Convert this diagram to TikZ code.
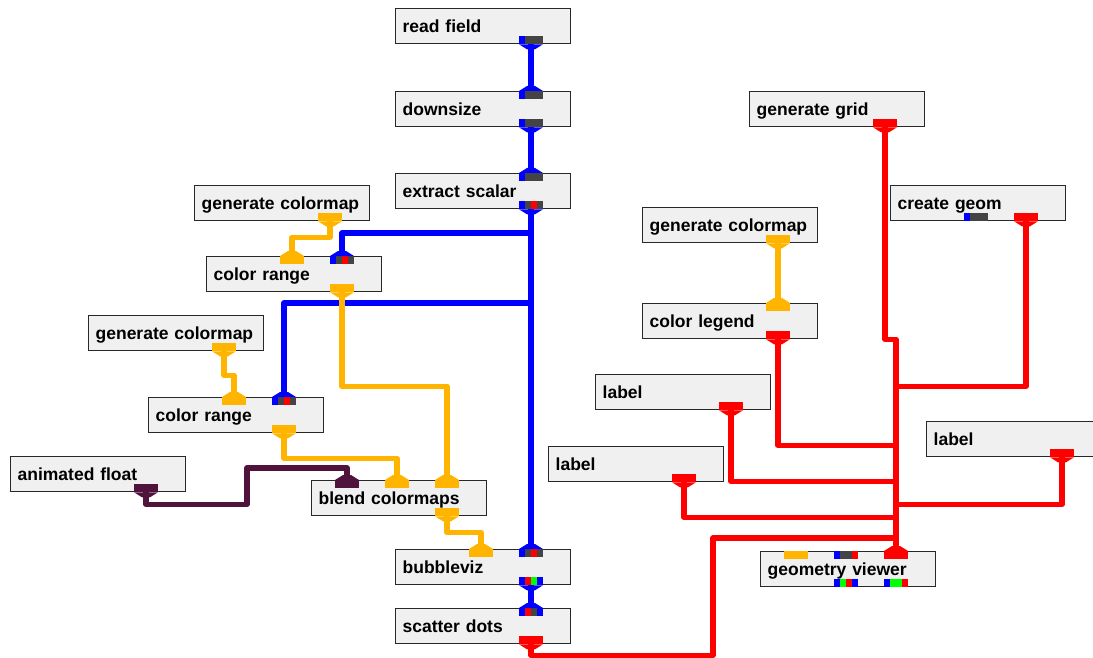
\documentclass[tikz,border=0pt]{standalone}
\usepackage{fontspec}
\setmainfont{Liberation Sans}
\usetikzlibrary{calc}

\definecolor{wblue}{RGB}{0,0,255}
\definecolor{wred}{RGB}{255,0,0}
\definecolor{worange}{RGB}{255,180,0}
\definecolor{wplum}{RGB}{80,20,60}
\definecolor{wgreen}{RGB}{0,255,0}
\definecolor{pgray}{RGB}{68,68,68}
\definecolor{boxfill}{RGB}{240,240,240}
\definecolor{boxline}{RGB}{40,40,40}

% funnel where a wire leaves an output port (below) or enters an input port (above)
\newcommand\flaredown[2]{\fill[#2] (#1.south west) -- (#1.south east)
  -- ([xshift=-8pt,yshift=-5pt]#1.south east) -- ([xshift=8pt,yshift=-5pt]#1.south west) -- cycle;}
\newcommand\flareup[2]{\fill[#2] (#1.north west) -- (#1.north east)
  -- ([xshift=-8pt,yshift=5pt]#1.north east) -- ([xshift=8pt,yshift=5pt]#1.north west) -- cycle;}

\begin{document}
\begin{tikzpicture}[x=1pt,y=-1pt,
  module/.style={draw=boxline, fill=boxfill, line width=1.3pt, anchor=north west,
    minimum width=175pt, minimum height=35pt, inner xsep=7pt, inner ysep=0pt,
    text width=161pt, align=left, font=\bfseries\fontsize{17.5}{20}\selectfont,
    text height=12.5pt, text depth=0.5pt},
  portbox/.style n args={4}{minimum width=24pt, minimum height=8pt, inner sep=0pt,
    outer sep=0pt, fill=#1, path picture={
      \fill[#2] ([xshift=6pt]path picture bounding box.south west) rectangle ++(6pt,8pt);
      \fill[#3] ([xshift=12pt]path picture bounding box.south west) rectangle ++(6pt,8pt);
      \fill[#4] ([xshift=18pt]path picture bounding box.south west) rectangle ++(6pt,8pt);}},
  pin/.style={anchor=north},
  pout/.style={anchor=south},
  porange/.style={portbox={worange}{worange}{worange}{worange}},
  pred/.style={portbox={wred}{wred}{wred}{wred}},
  pplum/.style={portbox={wplum}{wplum}{wplum}{wplum}},
  pfield/.style={portbox={wblue}{pgray}{pgray}{pgray}},
  pscalar/.style={portbox={wblue}{pgray}{wred}{pgray}},
  wire/.style={draw=#1, line width=5.5pt, line join=round}
]
\useasboundingbox (0,0) rectangle (1093,658);

% ---------- modules ----------
\node[module] (rf)  at (395,8)   {read field};
\node[module] (ds)  at (395,91)  {downsize};
\node[module] (es)  at (395,173) {extract scalar};
\node[module] (gc1) at (194,185) {generate colormap};
\node[module] (cr1) at (206,256) {color range};
\node[module] (gc2) at (88,315)  {generate colormap};
\node[module] (cr2) at (148,397) {color range};
\node[module] (af)  at (10,456)  {animated float};
\node[module] (bc)  at (311,480) {blend colormaps};
\node[module] (bv)  at (395,549) {bubbleviz};
\node[module] (sd)  at (395,608) {scatter dots};
\node[module] (gg)  at (749,91)  {generate grid};
\node[module] (cg)  at (890,185) {create geom};
\node[module] (gc3) at (642,207) {generate colormap};
\node[module] (cl)  at (642,303) {color legend};
\node[module] (lb1) at (595,374) {label};
\node[module] (lb2) at (548,446) {label};
\node[module] (lb3) at (926,421) {label};
\node[module] (gv)  at (760,551) {geometry viewer};

% ---------- ports ----------
\node[pfield,pout]  (rf-o)  at ([xshift=136pt]rf.south west) {};
\node[pfield,pin]   (ds-i)  at ([xshift=136pt]ds.north west) {};
\node[pfield,pout]  (ds-o)  at ([xshift=136pt]ds.south west) {};
\node[pfield,pin]   (es-i)  at ([xshift=136pt]es.north west) {};
\node[pscalar,pout] (es-o)  at ([xshift=136pt]es.south west) {};
\node[porange,pout] (gc1-o) at ([xshift=136pt]gc1.south west) {};
\node[porange,pin]  (cr1-i1) at ([xshift=86pt]cr1.north west) {};
\node[pscalar,pin]  (cr1-i2) at ([xshift=136pt]cr1.north west) {};
\node[porange,pout] (cr1-o) at ([xshift=136pt]cr1.south west) {};
\node[porange,pout] (gc2-o) at ([xshift=136pt]gc2.south west) {};
\node[porange,pin]  (cr2-i1) at ([xshift=86pt]cr2.north west) {};
\node[pscalar,pin]  (cr2-i2) at ([xshift=136pt]cr2.north west) {};
\node[porange,pout] (cr2-o) at ([xshift=136pt]cr2.south west) {};
\node[pplum,pout]   (af-o)  at ([xshift=136pt]af.south west) {};
\node[pplum,pin]    (bc-i1) at ([xshift=36pt]bc.north west) {};
\node[porange,pin]  (bc-i2) at ([xshift=86pt]bc.north west) {};
\node[porange,pin]  (bc-i3) at ([xshift=136pt]bc.north west) {};
\node[porange,pout] (bc-o)  at ([xshift=136pt]bc.south west) {};
\node[porange,pin]  (bv-i1) at ([xshift=86pt]bv.north west) {};
\node[pscalar,pin]  (bv-i2) at ([xshift=136pt]bv.north west) {};
\node[portbox={wblue}{wred}{wgreen}{wblue},pout] (bv-o) at ([xshift=136pt]bv.south west) {};
\node[portbox={wblue}{wred}{pgray}{wblue},pin]   (sd-i) at ([xshift=136pt]sd.north west) {};
\node[pred,pout]    (sd-o)  at ([xshift=136pt]sd.south west) {};
\node[pred,pout]    (gg-o)  at ([xshift=136pt]gg.south west) {};
\node[pfield,pout]  (cg-o1) at ([xshift=86pt]cg.south west) {};
\node[pred,pout]    (cg-o2) at ([xshift=136pt]cg.south west) {};
\node[porange,pout] (gc3-o) at ([xshift=136pt]gc3.south west) {};
\node[porange,pin]  (cl-i)  at ([xshift=136pt]cl.north west) {};
\node[pred,pout]    (cl-o)  at ([xshift=136pt]cl.south west) {};
\node[pred,pout]    (lb1-o) at ([xshift=136pt]lb1.south west) {};
\node[pred,pout]    (lb2-o) at ([xshift=136pt]lb2.south west) {};
\node[pred,pout]    (lb3-o) at ([xshift=136pt]lb3.south west) {};
\node[porange,pin]  (gv-i1) at ([xshift=36pt]gv.north west) {};
\node[portbox={wblue}{pgray}{pgray}{wred},pin]    (gv-i2) at ([xshift=86pt]gv.north west) {};
\node[pred,pin]     (gv-i3) at ([xshift=136pt]gv.north west) {};
\node[portbox={wblue}{wgreen}{wred}{wblue},pout]  (gv-o1) at ([xshift=86pt]gv.south west) {};
\node[portbox={wblue}{wgreen}{wgreen}{wred},pout] (gv-o2) at ([xshift=136pt]gv.south west) {};

% ---------- wires ----------
\coordinate (jb1) at (531,233);
\coordinate (jb2) at (531,303);
\draw[wire=wblue] (rf-o.south) -- (ds-i.north);
\draw[wire=wblue] (ds-o.south) -- (es-i.north);
\draw[wire=wblue] (es-o.south) -- (bv-i2.north);
\draw[wire=wblue] (jb1) -| (cr1-i2.north);
\draw[wire=wblue] (jb2) -| (cr2-i2.north);
\draw[wire=wblue] (bv-o.south) -- (sd-i.north);

\draw[wire=worange] (gc1-o.south) -- ++(0,16) -| (cr1-i1.north);
\draw[wire=worange] (gc2-o.south) -- ++(0,24) -| (cr2-i1.north);
\draw[wire=worange] (cr1-o.south) -- ++(0,94) -| (bc-i3.north);
\draw[wire=worange] (cr2-o.south) -- ++(0,25) -| (bc-i2.north);
\draw[wire=worange] (bc-o.south) -- ++(0,16) -| (bv-i1.north);
\draw[wire=worange] (gc3-o.south) -- (cl-i.north);

\draw[wire=wplum] (af-o.south) -- ++(0,12) -| (247,468) -| (bc-i1.north);

\draw[wire=wred] (gg-o.south) -- ++(0,212) -| (gv-i3.north);
\draw[wire=wred] (cg-o2.south) -- ++(0,165) -| (gv-i3.north);
\draw[wire=wred] (cl-o.south) -- ++(0,106) -| (gv-i3.north);
\draw[wire=wred] (lb1-o.south) -- ++(0,71) -| (gv-i3.north);
\draw[wire=wred] (lb3-o.south) -- ++(0,47) -| (gv-i3.north);
\draw[wire=wred] (lb2-o.south) -- ++(0,35) -| (gv-i3.north);
\draw[wire=wred] (sd-o.south) -- ++(0,11) -| (713,538) -| (gv-i3.north);

% ---------- funnels at the connected ports ----------
\foreach \p in {rf-o,ds-o,es-o,bv-o} {\flaredown{\p}{wblue}}
\foreach \p in {ds-i,es-i,cr1-i2,cr2-i2,bv-i2,sd-i} {\flareup{\p}{wblue}}
\foreach \p in {gc1-o,gc2-o,cr1-o,cr2-o,bc-o,gc3-o} {\flaredown{\p}{worange}}
\foreach \p in {cr1-i1,cr2-i1,bc-i2,bc-i3,bv-i1,cl-i} {\flareup{\p}{worange}}
\flaredown{af-o}{wplum}
\flareup{bc-i1}{wplum}
\foreach \p in {sd-o,gg-o,cg-o2,cl-o,lb1-o,lb2-o,lb3-o} {\flaredown{\p}{wred}}
\flareup{gv-i3}{wred}
\end{tikzpicture}
\end{document}
